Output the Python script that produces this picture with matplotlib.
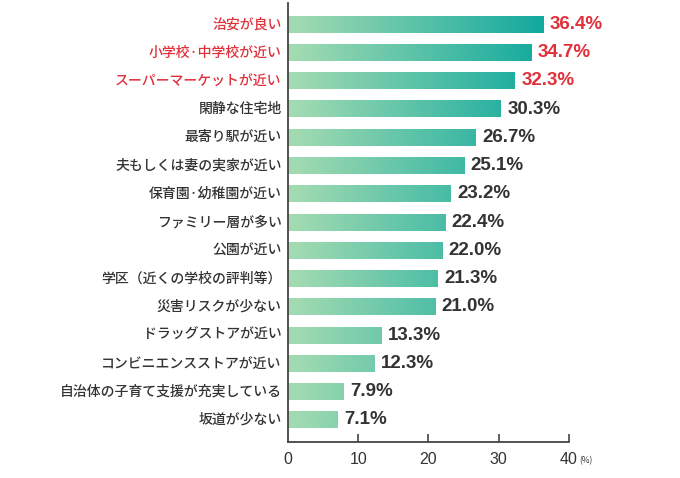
import numpy as np
import matplotlib
matplotlib.use("Agg")
from matplotlib import pyplot as plt
from matplotlib.colors import LinearSegmentedColormap

labels = ["治安が良い", "小学校·中学校が近い", "スーパーマーケットが近い", "閑静な住宅地",
          "最寄り駅が近い", "夫もしくは妻の実家が近い", "保育園·幼稚園が近い", "ファミリー層が多い",
          "公園が近い", "学区（近くの学校の評判等）", "災害リスクが少ない", "ドラッグストアが近い",
          "コンビニエンスストアが近い", "自治体の子育て支援が充実している", "坂道が少ない"]
values = [36.4, 34.7, 32.3, 30.3, 26.7, 25.1, 23.2, 22.4, 22.0, 21.3, 21.0, 13.3, 12.3, 7.9, 7.1]
highlight = 3  # first three in red
xticks = [0, 10, 20, 30, 40]

RED = "#e0303a"
DARK = "#333333"
cmap = LinearSegmentedColormap.from_list("g", ["#a5dcb2", "#12a99e"])

plt.rcParams['font.family'] = ['Noto Sans CJK JP', 'DejaVu Sans']

fig = plt.figure(figsize=(6.8, 4.78), dpi=100)
ax = fig.add_axes([288/680, 1-442/478, (569-288)/680, 439/478])

n = len(values)
vmax = max(values)
bh = 0.6
for i, (lab, v) in enumerate(zip(labels, values)):
    y = n - 1 - i
    grad = np.linspace(0, v / vmax, 256).reshape(1, -1)
    ax.imshow(grad, cmap=cmap, vmin=0, vmax=1, aspect="auto",
              extent=[0, v, y - bh/2, y + bh/2], interpolation="bilinear", zorder=2)
    col = RED if i < highlight else DARK
    ax.text(v + 0.9, y, f"{v:.1f}%", va="center", ha="left", fontsize=13.5,
            fontweight="bold", color=col, family=["Liberation Sans", "DejaVu Sans"])
    ax.text(-0.9, y, lab, va="center", ha="right", fontsize=10, color=col,
            fontweight="medium")

ax.set_xlim(0, 40)
ax.set_ylim(-0.78, n - 1 + 0.75)
ax.set_yticks([])
ax.set_xticks(xticks)
ax.set_xticklabels([str(t) for t in xticks], family=["Liberation Sans", "DejaVu Sans"],
                   fontsize=11.5, color=DARK)
ax.tick_params(axis="x", direction="in", length=6, width=1.2, color="#444444", pad=7)
ax.xaxis.get_major_ticks()[0].tick1line.set_visible(False)
for s in ["top", "right"]:
    ax.spines[s].set_visible(False)
for s in ["left", "bottom"]:
    ax.spines[s].set_color("#444444")
    ax.spines[s].set_linewidth(1.3)
fig.text(579/680, 1-461/478, "(%)", fontsize=6, color=DARK, va="center", ha="left")

fig.savefig("out.png", dpi=100)
